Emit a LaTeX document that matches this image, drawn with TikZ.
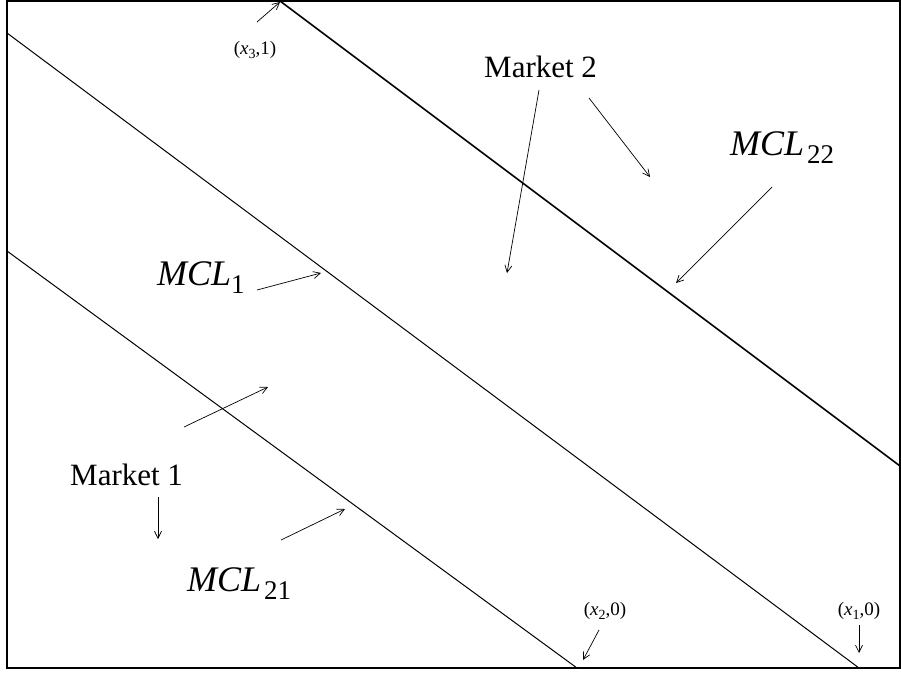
\documentclass[tikz,border=0pt]{standalone}
\usepackage{fontspec}
\setmainfont{Liberation Serif}
\usetikzlibrary{arrows.meta}

\newcommand{\mcl}[2][0pt]{\textit{MCL}\kern#1\raisebox{-8pt}{\fontsize{27}{27}\selectfont #2}}
\newcommand{\crd}[2]{(\textit{x}\raisebox{-4pt}{\fontsize{14}{14}\selectfont #1},#2)}

\tikzset{
  mkt/.style={font=\fontsize{31}{31}\selectfont, inner sep=0pt, anchor=base west},
  mcllbl/.style={font=\fontsize{36}{36}\selectfont, inner sep=0pt, anchor=base west},
  crdlbl/.style={font=\fontsize{19}{19}\selectfont, inner sep=0pt},
  ptr/.style={-{Straight Barb[length=7pt,width=7pt]}, line width=0.7pt},
  mline/.style={line width=1pt}
}

\begin{document}
\begin{tikzpicture}[x=1pt, y=-1pt]
    \useasboundingbox (0,0) rectangle (901,672);
    \draw[line width=1.3pt] (7,1) rectangle (900,668);

    % the three lines
    \coordinate (a1) at (7,251);  \coordinate (a2) at (577,668);
    \coordinate (b1) at (7,33);   \coordinate (b2) at (859,668);
    \coordinate (c1) at (280,1);  \coordinate (c2) at (900,466);
    \draw[mline] (a1) -- (a2);
    \draw[mline] (b1) -- (b2);
    \draw[mline, line width=1.6pt] (c1) -- (c2);

    % labels
    \node[mkt] (mkt1) at (70,485) {Market 1};
    \node[mkt] (mkt2) at (484,77) {Market 2};
    \node[mcllbl] (mcl1) at (157,285) {\mcl{1}};
    \node[mcllbl] (mcl21) at (187,591) {\mcl[3pt]{21}};
    \node[mcllbl] (mcl22) at (730,155) {\mcl[3pt]{22}};
    \node[crdlbl] (x3) at (255,50) {\crd{3}{1}};
    \node[crdlbl] (x2) at (605,611) {\crd{2}{0}};
    \node[crdlbl] (x1) at (859,611) {\crd{1}{0}};

    % arrow ends
    \coordinate (t1) at (257,22);  \coordinate (h1) at (280,2);
    \coordinate (t2) at (599,630); \coordinate (h2) at (583,660);
    \coordinate (t3) at (859,625); \coordinate (h3) at (859,653);
    \coordinate (t4) at (158,497); \coordinate (h4) at (158,539);
    \coordinate (t5) at (257,290); \coordinate (h5) at (321,273);
    \coordinate (t6) at (184,427); \coordinate (h6) at (268,387);
    \coordinate (t7) at (281,540); \coordinate (h7) at (345,509);
    \coordinate (t8) at (539,90);  \coordinate (h8) at (507,273);
    \coordinate (t9) at (589,98);  \coordinate (h9) at (650,177);
    \coordinate (t10) at (772,187); \coordinate (h10) at (676,283);
    \foreach \i in {1,...,10} \draw[ptr] (t\i) -- (h\i);
\end{tikzpicture}
\end{document}
